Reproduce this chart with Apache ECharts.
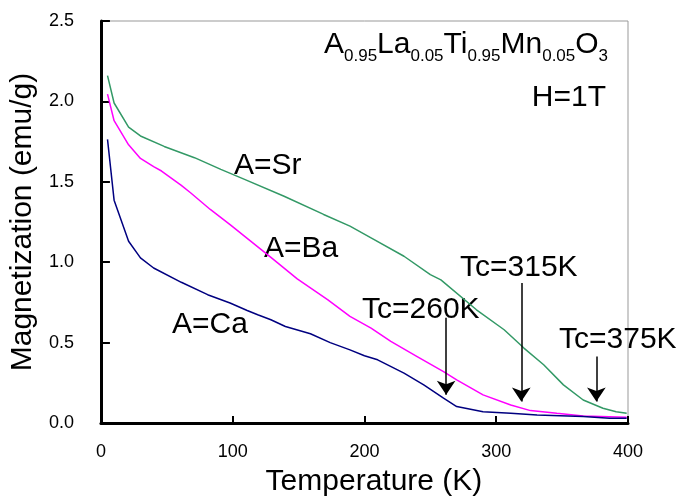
<!DOCTYPE html>
<html>
<head>
<meta charset="utf-8">
<script src="https://cdn.jsdelivr.net/npm/echarts@6/dist/echarts.min.js"></script>
<style>
  html, body { margin: 0; padding: 0; background: #fff; }
  #chart { width: 682px; height: 502px; }
</style>
</head>
<body>
<div id="chart"></div>
<script>
// A=Sr (green)
const srTemp = [5, 10, 21, 30, 48, 71, 91, 109, 139, 169, 189, 205, 230, 250, 258, 285, 306, 321, 336, 351, 366, 381, 391, 399]
const srMag = [2.16, 1.99, 1.84, 1.785, 1.72, 1.65, 1.577, 1.515, 1.41, 1.297, 1.224, 1.151, 1.037, 0.923, 0.89, 0.704, 0.58, 0.466, 0.362, 0.237, 0.143, 0.092, 0.07, 0.06]
// A=Ba (magenta)
const baTemp = [5, 10, 21, 30, 40, 46, 61, 68, 83, 98, 129, 149, 172, 189, 205, 220, 240, 260, 270, 290, 311, 326, 346, 366, 399]
const baMag = [2.045, 1.88, 1.73, 1.645, 1.594, 1.567, 1.478, 1.432, 1.328, 1.234, 1.03, 0.896, 0.767, 0.663, 0.59, 0.507, 0.413, 0.32, 0.268, 0.175, 0.112, 0.077, 0.06, 0.044, 0.036]
// A=Ca (navy)
const caTemp = [5, 10, 21, 30, 40, 61, 81, 98, 111, 119, 129, 140, 159, 174, 189, 200, 210, 230, 245, 260, 270, 290, 311, 331, 366, 386, 399]
const caMag = [1.764, 1.386, 1.13, 1.027, 0.964, 0.875, 0.798, 0.746, 0.70, 0.673, 0.642, 0.6, 0.555, 0.5, 0.455, 0.418, 0.393, 0.31, 0.237, 0.154, 0.102, 0.07, 0.06, 0.05, 0.04, 0.03, 0.03]

// Tc arrows: x position, start and tip magnetization
const tcTemp = [262, 319, 376]
const arrowFrom = [0.655, 0.87, 0.413]
const arrowTo = [0.175, 0.133, 0.133]

const FONT = 'Liberation Sans, Arial, sans-serif'

const zip = (xs, ys) => xs.map((x, i) => [x, ys[i]])

const chart = echarts.init(document.getElementById('chart'))

const arrowLines = tcTemp.map((t, i) => [
  { coord: [t, arrowFrom[i]] },
  { coord: [t, arrowTo[i]] }
])

const bigText = (x, y, text, align) => ({
  type: 'text',
  x: x,
  y: y,
  style: {
    text: text,
    font: '30px ' + FONT,
    fill: '#000',
    align: align || 'left',
    verticalAlign: 'middle'
  }
})

chart.setOption({
  animation: false,
  grid: {
    left: 100,
    right: 54,
    top: 21,
    bottom: 79,
    show: true,
    borderColor: '#999',
    borderWidth: 1
  },
  xAxis: {
    type: 'value',
    min: 0,
    max: 400,
    interval: 100,
    name: 'Temperature (K)',
    nameLocation: 'middle',
    nameGap: 44,
    nameTextStyle: { fontFamily: FONT, fontSize: 30, color: '#000', padding: [0, 0, 0, 19] },
    axisLine: { lineStyle: { color: '#000', width: 3 } },
    axisTick: { inside: true, length: 7, lineStyle: { color: '#000', width: 2 } },
    axisLabel: { margin: 20, fontFamily: FONT, fontSize: 18, color: '#000' },
    splitLine: { show: false }
  },
  yAxis: {
    type: 'value',
    min: 0,
    max: 2.5,
    interval: 0.5,
    name: 'Magnetization (emu/g)',
    nameLocation: 'middle',
    nameGap: 58,
    nameTextStyle: { fontFamily: FONT, fontSize: 30, color: '#000' },
    axisLine: { show: true, lineStyle: { color: '#000', width: 3 } },
    axisTick: { show: true, inside: true, length: 9, lineStyle: { color: '#000', width: 2 } },
    axisLabel: { margin: 27, fontFamily: FONT, fontSize: 18, color: '#000', formatter: v => v.toFixed(1) },
    splitLine: { show: false }
  },
  series: [
    {
      name: 'A=Sr',
      type: 'line',
      data: zip(srTemp, srMag),
      showSymbol: false,
      lineStyle: { color: '#339966', width: 1.5 },
      itemStyle: { color: '#339966' }
    },
    {
      name: 'A=Ba',
      type: 'line',
      data: zip(baTemp, baMag),
      showSymbol: false,
      lineStyle: { color: '#ff00ff', width: 1.5 },
      itemStyle: { color: '#ff00ff' }
    },
    {
      name: 'A=Ca',
      type: 'line',
      data: zip(caTemp, caMag),
      showSymbol: false,
      lineStyle: { color: '#000080', width: 1.5 },
      itemStyle: { color: '#000080' },
      markLine: {
        silent: true,
        symbol: ['none', 'arrow'],
        symbolSize: 14,
        label: { show: false },
        lineStyle: { color: '#000', width: 1.5, type: 'solid' },
        data: arrowLines
      }
    }
  ],
  graphic: [
    {
      type: 'text',
      x: 324,
      y: 25,
      style: {
        text: '{m|A}{s|0.95}{m|La}{s|0.05}{m|Ti}{s|0.95}{m|Mn}{s|0.05}{m|O}{s|3}',
        fill: '#000',
        rich: {
          m: { fontFamily: FONT, fontSize: 30, lineHeight: 40, verticalAlign: 'middle' },
          s: { fontFamily: FONT, fontSize: 17, lineHeight: 40, verticalAlign: 'bottom' }
        }
      }
    },
    bigText(606, 98, 'H=1T', 'right'),
    bigText(234, 166, 'A=Sr'),
    bigText(264, 249, 'A=Ba'),
    bigText(172, 325, 'A=Ca'),
    bigText(362, 310, 'Tc=260K'),
    bigText(460, 268, 'Tc=315K'),
    bigText(559, 340, 'Tc=375K')
  ]
})
</script>
</body>
</html>
